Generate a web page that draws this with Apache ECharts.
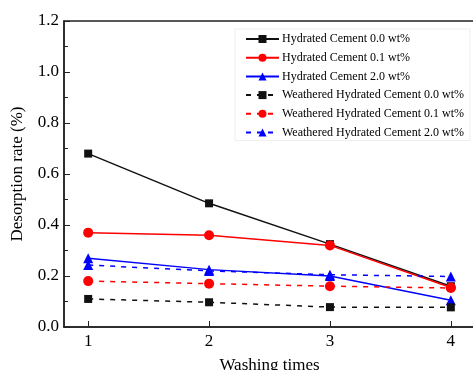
<!DOCTYPE html>
<html>
<head>
    <meta charset="UTF-8">
    <title>Desorption rate</title>
    <script src="https://cdn.jsdelivr.net/npm/echarts@6.0.0/dist/echarts.min.js"></script>
    <style>
        body { margin: 0; background: #fff; }
        #chart { width: 473px; height: 370px; }
    </style>
</head>
<body>
    <div id="chart"></div>
    <script>
        // washing times on x
        var washTimes = [1, 2, 3, 4];
        var seriesNames = [
            'Hydrated Cement 0.0 wt%',
            'Hydrated Cement 0.1 wt%',
            'Hydrated Cement 2.0 wt%',
            'Weathered Hydrated Cement 0.0 wt%',
            'Weathered Hydrated Cement 0.1 wt%',
            'Weathered Hydrated Cement 2.0 wt%'
        ];
        var hc00 = [0.68, 0.485, 0.325, 0.16];
        var hc01 = [0.37, 0.36, 0.32, 0.155];
        var hc20 = [0.27, 0.225, 0.20, 0.105];
        var whc00 = [0.11, 0.097, 0.078, 0.077];
        var whc01 = [0.18, 0.17, 0.16, 0.153];
        var whc20 = [0.243, 0.22, 0.205, 0.198];

        var font = 'Liberation Serif';
        var values = [hc00, hc01, hc20, whc00, whc01, whc20];
        var colors = ['#111', '#ff0000', '#0000ff', '#111', '#ff0000', '#0000ff'];
        var symbols = ['rect', 'circle', 'triangle', 'rect', 'circle', 'triangle'];
        var sizes = [8, 10, 10, 8, 10, 10];

        var series = values.map(function (vals, i) {
            return {
                name: seriesNames[i],
                type: 'line',
                data: vals.map(function (v, j) { return [washTimes[j], v]; }),
                symbol: symbols[i],
                symbolSize: sizes[i],
                color: colors[i],
                lineStyle: { width: 1.5, type: i < 3 ? 'solid' : [5, 6], color: colors[i] },
                itemStyle: { color: colors[i] }
            };
        });

        var chart = echarts.init(document.getElementById('chart'));
        chart.setOption({
            animation: false,
            grid: {
                left: 64, top: 21, right: -2, bottom: 43,
                outerBoundsMode: 'none',
                show: true, borderColor: '#222', borderWidth: 1.5
            },
            legend: {
                orient: 'vertical',
                left: 235, top: 29,
                padding: [4, 6, 2, 10],
                borderColor: '#eeeeee', borderWidth: 1,
                itemWidth: 33, itemHeight: 10, itemGap: 6.7,
                textStyle: { fontFamily: font, fontSize: 12, color: '#000', padding: [0, 0, 0, -2] },
                data: seriesNames
            },
            xAxis: {
                type: 'value', min: 0.8, max: 4.2,
                name: 'Washing times', nameLocation: 'middle', nameGap: 30,
                nameTextStyle: { fontFamily: font, fontSize: 17, color: '#000' },
                axisLine: { lineStyle: { color: '#222', width: 1.5 } },
                axisTick: { inside: true, length: 6, customValues: washTimes, lineStyle: { color: '#222' } },
                axisLabel: { customValues: washTimes, fontFamily: font, fontSize: 17, color: '#000', margin: 6 },
                splitLine: { show: false }
            },
            yAxis: {
                type: 'value', min: 0, max: 1.2, interval: 0.2,
                name: 'Desorption rate (%)', nameLocation: 'middle', nameGap: 38,
                nameTextStyle: { fontFamily: font, fontSize: 17, color: '#000' },
                axisLine: { show: true, lineStyle: { color: '#222', width: 1.5 } },
                axisTick: { inside: true, length: 6, lineStyle: { color: '#222' } },
                minorTick: { show: true, splitNumber: 2, length: 4, lineStyle: { color: '#222' } },
                axisLabel: {
                    fontFamily: font, fontSize: 17, color: '#000', margin: 5,
                    formatter: function (v) { return v.toFixed(1); }
                },
                splitLine: { show: false }
            },
            series: series
        });
    </script>
</body>
</html>
